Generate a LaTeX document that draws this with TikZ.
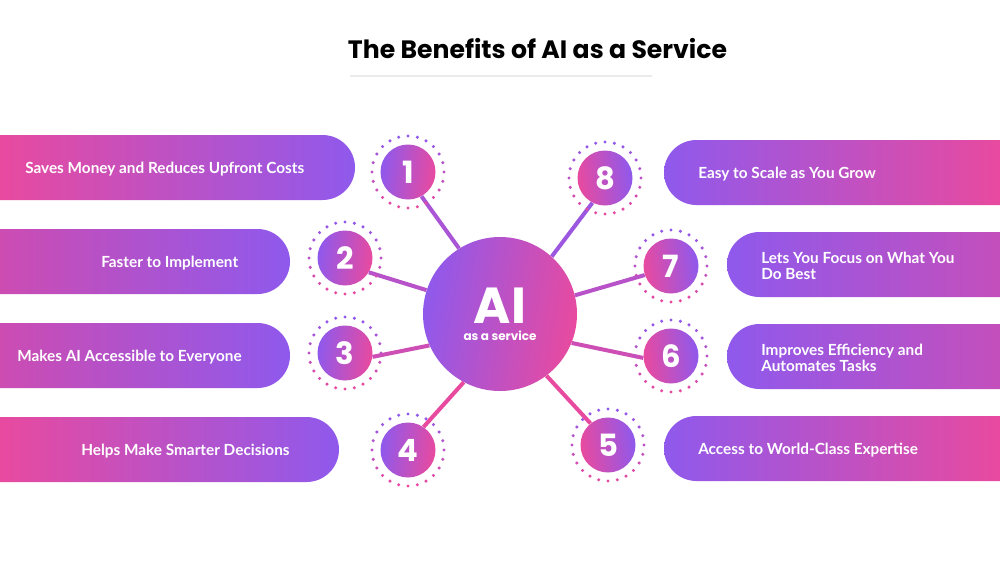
\documentclass[tikz,border=0pt]{standalone}
\usepackage{fontspec}
\setmainfont{Lato}
\newfontfamily\headfont{Poppins}
\definecolor{pinkc}{HTML}{E84A9F}
\definecolor{violetc}{HTML}{8F59EC}
\definecolor{midc}{HTML}{CC4CB2}
\definecolor{softc}{HTML}{C44FBC}
\tikzset{
  pilltext/.style={anchor=west, inner sep=0pt, text=white, font=\fontsize{11.5}{12}\selectfont\bfseries, align=left},
  numleft/.style={circle, inner sep=0pt, minimum size=41.25pt, left color=violetc, right color=pinkc, shading angle=82, text=white, font=\fontsize{23}{23}\selectfont\headfont\bfseries},
  numright/.style={circle, inner sep=0pt, minimum size=41.25pt, left color=pinkc, right color=violetc, shading angle=98, text=white, font=\fontsize{23}{23}\selectfont\headfont\bfseries},
  spoke/.style={line width=3pt}
}
\begin{document}
\begin{tikzpicture}[x=0.75pt, y=-0.75pt]
  \useasboundingbox (0,0) rectangle (1000,565);
  \fill[white] (0,0) rectangle (1000,565);

  % Title
  \node[font=\fontsize{18.85}{19}\selectfont\headfont\bfseries, text=black] (title) at (537.5,49) {The Benefits of AI as a Service};
  \coordinate (ruleL) at (350,76);
  \coordinate (ruleR) at (652,76);
  \draw[line width=1pt, color=black!8] (ruleL) -- (ruleR);

  % Left pills
  \shade[left color=pinkc, right color=violetc] (0,135) [rounded corners=24.37pt] -- (355,135) -- (355,200) [sharp corners] -- (0,200) -- cycle;
  \shade[left color=midc, right color=violetc] (0,229) [rounded corners=24.37pt] -- (290,229) -- (290,294) [sharp corners] -- (0,294) -- cycle;
  \shade[left color=midc, right color=violetc] (0,323) [rounded corners=24.37pt] -- (290,323) -- (290,388) [sharp corners] -- (0,388) -- cycle;
  \shade[left color=pinkc, right color=violetc] (0,417) [rounded corners=24.37pt] -- (339,417) -- (339,482) [sharp corners] -- (0,482) -- cycle;

  % Right pills
  \shade[left color=violetc, right color=pinkc] (1000,140) [rounded corners=24.37pt] -- (664,140) -- (664,205) [sharp corners] -- (1000,205) -- cycle;
  \shade[left color=violetc, right color=softc] (1000,232) [rounded corners=24.37pt] -- (727,232) -- (727,297) [sharp corners] -- (1000,297) -- cycle;
  \shade[left color=violetc, right color=softc] (1000,324) [rounded corners=24.37pt] -- (727,324) -- (727,389) [sharp corners] -- (1000,389) -- cycle;
  \shade[left color=violetc, right color=pinkc] (1000,416) [rounded corners=24.37pt] -- (664,416) -- (664,481) [sharp corners] -- (1000,481) -- cycle;

  % Pill labels
  \node[pilltext] (label1) at (25,169) {Saves Money and Reduces Upfront Costs};
  \node[pilltext] (label2) at (101,263) {Faster to Implement};
  \node[pilltext] (label3) at (17,357) {Makes AI Accessible to Everyone};
  \node[pilltext] (label4) at (81,451) {Helps Make Smarter Decisions};
  \node[pilltext] (label5) at (698,450) {Access to World-Class Expertise};
  \node[pilltext] (label6) at (761,357.5) {Improves Efficiency and\\Automates Tasks};
  \node[pilltext] (label7) at (761,265.5) {Lets You Focus on What You\\Do Best};
  \node[pilltext] (label8) at (698,174) {Easy to Scale as You Grow};

  % Hub
  \node[circle, inner sep=0pt, minimum size=115.5pt, left color=violetc, right color=pinkc, shading angle=80] (hub) at (500,314) {};
  \node[inner sep=0pt, align=center, text=white, font=\fontsize{9}{12.75}\selectfont\headfont\bfseries] (hubtitle) at (500,314) {{\fontsize{38}{38}\selectfont AI}\\as a service};

  % Numbered circles
  \node[numleft] (num1) at (408,172) {1};
  \node[numleft] (num2) at (345,258) {2};
  \node[numleft] (num3) at (345,353) {3};
  \node[numleft] (num4) at (408,450) {4};
  \node[numright] (num5) at (608,445) {5};
  \node[numright] (num6) at (671,356) {6};
  \node[numright] (num7) at (671,266) {7};
  \node[numright] (num8) at (605,178) {8};

  % Spokes
  \draw[spoke, color=violetc!70!pinkc] (hub.122) -- (num1.-61);
  \draw[spoke, color=violetc!55!pinkc] (hub.162) -- (num2.-31);
  \draw[spoke, color=violetc!30!pinkc] (hub.204) -- (num3.-8);
  \draw[spoke, color=pinkc] (hub.242) -- (num4.56);
  \draw[spoke, color=pinkc] (hub.-53) -- (num5.129);
  \draw[spoke, color=violetc!30!pinkc] (hub.-22) -- (num6.184);
  \draw[spoke, color=violetc!55!pinkc] (hub.14) -- (num7.199);
  \draw[spoke, color=violetc!85!pinkc] (hub.48) -- (num8.243);

  % Dotted rings
  \foreach \n in {1,...,8}
    \foreach \a in {0,15,...,345} {
      \pgfmathsetmacro{\mix}{50+50*sin(\a)}
      \fill[color=pinkc!\mix!violetc] (num\n) ++(\a:36) circle (1.7);
    }
\end{tikzpicture}
\end{document}
